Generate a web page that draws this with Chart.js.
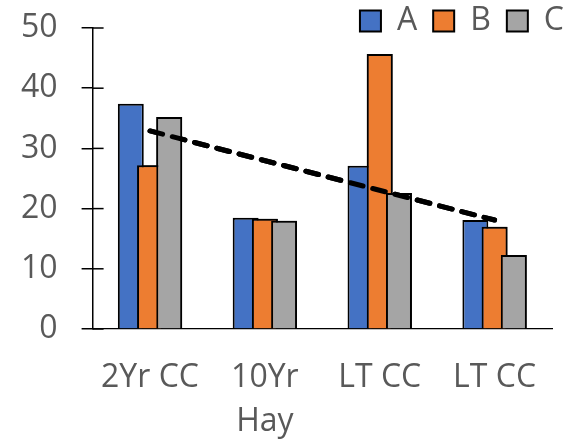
<!DOCTYPE html>
<html>
<head>
<meta charset="utf-8">
<script src="https://cdn.jsdelivr.net/npm/chart.js@4.4.1/dist/chart.umd.min.js"></script>
<style>
  html, body { margin: 0; padding: 0; background: #fff; }
</style>
</head>
<body>
<canvas id="myChart" width="580" height="440"></canvas>
<script>
var categories = ["2Yr CC", ["10Yr", "Hay"], "LT CC", "LT CC"];
var seriesA = [37.4, 18.5, 27.1, 18.1];
var seriesB = [27.2, 18.3, 45.7, 17.0];
var seriesC = [35.2, 18.0, 22.6, 12.3];
// trend line: only the two ends are set, spanGaps joins them
var trendValues = [32.9, null, null, 18.1];
var yTicks = [0, 10, 20, 30, 40, 50];

var textColor = "#595959";
var fontFace = "'Open Sans', sans-serif";

function barSet(label, values, color) {
    return {
        label: label,
        data: values,
        backgroundColor: color,
        borderColor: "#000",
        borderWidth: 2,
        categoryPercentage: 0.502,
        barPercentage: 1.35
    };
}

// y ticks in Excel cross the axis, Chart.js only draws the outer half
var crossTicks = {
    id: "crossTicks",
    afterDraw: function (chart) {
        var y = chart.scales.y, ctx = chart.ctx;
        ctx.save();
        ctx.strokeStyle = "#000";
        ctx.lineWidth = 1.5;
        y.ticks.forEach(function (t, i) {
            var py = y.getPixelForTick(i);
            ctx.beginPath();
            ctx.moveTo(y.right, py);
            ctx.lineTo(y.right + 11, py);
            ctx.stroke();
        });
        ctx.restore();
    }
};

// later series sit on top of earlier ones, trend line above all
var stackOrder = {
    id: "stackOrder",
    afterDatasetsDraw: function (chart) {
        [1, 2, 3].forEach(function (i) {
            chart.getDatasetMeta(i).controller.draw();
        });
    }
};

// legend floats over the plot instead of pushing it down,
// so it gets a short box and is drawn without clipping to it
var legendFit = {
    id: "legendFit",
    beforeInit: function (chart) {
        var legend = chart.legend;
        var fit = legend.fit;
        legend.fit = function () {
            fit.call(this);
            this.height = 39;
        };
        legend.draw = function () {
            if (this.options.display) {
                this._draw();
            }
        };
    }
};

var ctx = document.getElementById("myChart");
var myChart = new Chart(ctx, {
    type: "bar",
    data: {
        labels: categories,
        datasets: [
            barSet("A", seriesA, "#4472C4"),
            barSet("B", seriesB, "#ED7D31"),
            barSet("C", seriesC, "#A5A5A5"),
            {
                type: "line",
                label: "trend",
                data: trendValues,
                spanGaps: true,
                borderColor: "#000",
                borderWidth: 5,
                borderDash: [13, 10],
                borderCapStyle: "round",
                pointRadius: 0,
                fill: false
            }
        ]
    },
    options: {
        responsive: false,
        animation: false,
        devicePixelRatio: 1,
        layout: {
            padding: {top: -11, left: 21, right: 0, bottom: 0}
        },
        plugins: {
            tooltip: {enabled: false},
            legend: {
                position: "top",
                align: "end",
                labels: {
                    boxWidth: 21,
                    boxHeight: 21,
                    padding: 16,
                    color: textColor,
                    font: {family: fontFace, size: 32},
                    filter: function (item) {
                        return item.datasetIndex < 3;
                    }
                }
            }
        },
        scales: {
            x: {
                grid: {display: false, drawTicks: false},
                border: {color: "#000", width: 1.25},
                ticks: {
                    color: textColor,
                    padding: 26,
                    maxRotation: 0,
                    autoSkip: false,
                    font: {family: fontFace, size: 32, lineHeight: 1.4}
                },
                afterFit: function (scale) {
                    scale.height = 111;
                    scale.paddingLeft = 0;
                    scale.paddingRight = 0;
                }
            },
            y: {
                min: 0,
                max: 50,
                afterBuildTicks: function (scale) {
                    scale.ticks = yTicks.map(function (v) { return {value: v}; });
                },
                grid: {drawOnChartArea: false, tickLength: 11, color: "#000", lineWidth: 1.5},
                border: {color: "#000", width: 1.5},
                ticks: {
                    color: textColor,
                    padding: 24,
                    font: {family: fontFace, size: 32}
                },
                afterFit: function (scale) {
                    // fit() counts the tick padding twice
                    scale.width -= scale.options.ticks.padding;
                    scale.paddingTop = 0;
                    scale.paddingBottom = 0;
                }
            },
            yPad: {
                position: "right",
                grid: {display: false},
                border: {display: false},
                ticks: {display: false},
                afterFit: function (scale) {
                    scale.width = 28;
                    scale.paddingTop = 0;
                    scale.paddingBottom = 0;
                }
            }
        }
    },
    plugins: [crossTicks, stackOrder, legendFit]
});
</script>
</body>
</html>
